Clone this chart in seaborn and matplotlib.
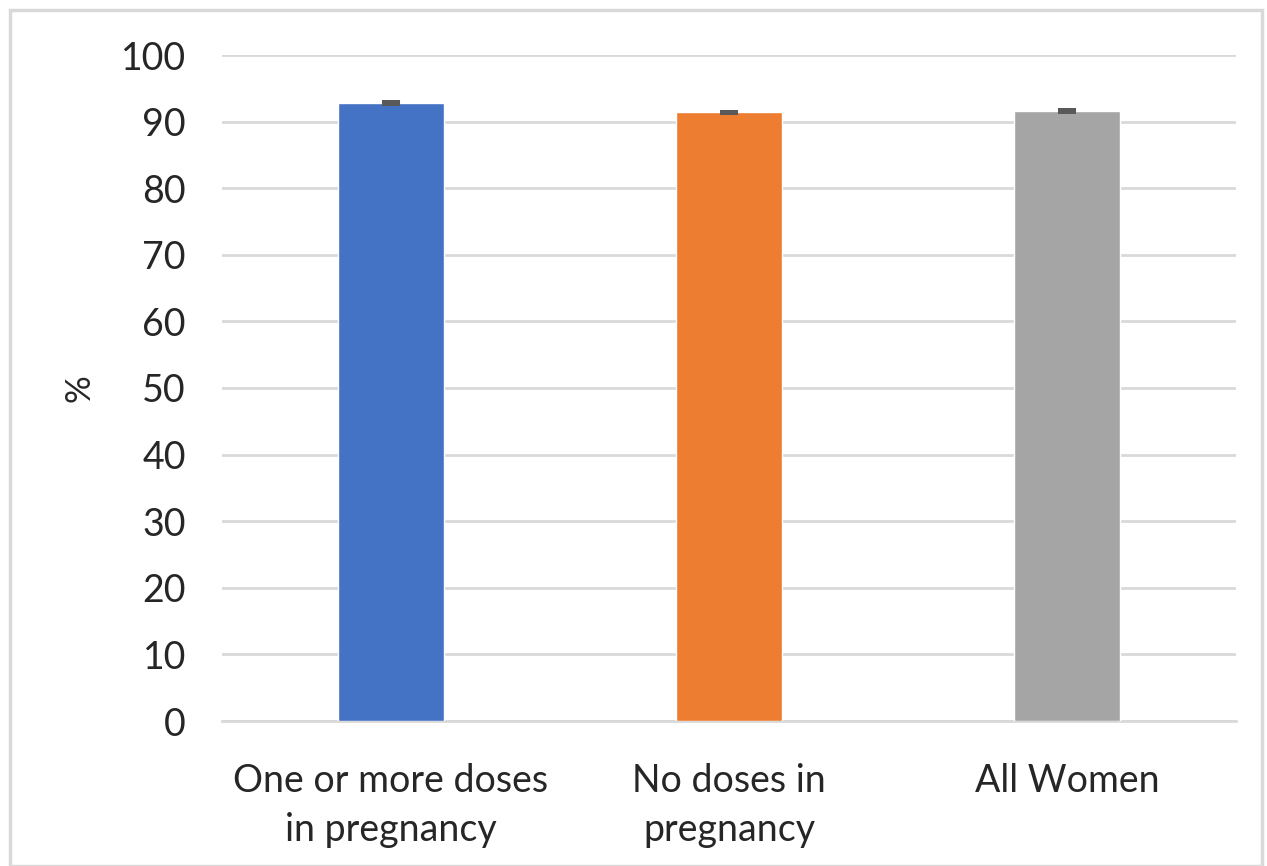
import matplotlib
matplotlib.use("Agg")
import matplotlib.pyplot as plt
import seaborn as sns
import pandas as pd
from matplotlib.patches import Rectangle

categories = ["One or more doses\nin pregnancy", "No doses in\npregnancy", "All Women"]
values = [92.8, 91.4, 91.6]
errors = [0.5, 0.4, 0.4]
colors = ["#4472C4", "#ED7D31", "#A5A5A5"]
yticks = [0, 10, 20, 30, 40, 50, 60, 70, 80, 90, 100]

sns.set_theme(style="white")
plt.rcParams["font.family"] = ["Lato", "DejaVu Sans"]

W, H, DPI = 1267, 866, 100
fig = plt.figure(figsize=(W / DPI, H / DPI), dpi=DPI)
ax = fig.add_axes([222 / W, 1 - 721 / H, (1236 - 222) / W, (721 - 55) / H])

df = pd.DataFrame({"cat": categories, "val": values})
sns.barplot(data=df, x="cat", y="val", hue="cat", palette=colors, width=0.315,
            legend=False, ax=ax, zorder=3, saturation=1)
ax.errorbar(range(len(values)), values, yerr=errors, fmt="none", ecolor="#595959",
            elinewidth=13, capsize=0, zorder=4)

ax.set_ylim(0, 100)
ax.set_xlim(-0.5, 2.5)
ax.set_yticks(yticks)
ax.set_yticklabels([str(t) for t in yticks], fontsize=27, color="#262626")
ax.tick_params(axis="x", labelsize=27, colors="#262626", length=0, pad=30)
ax.tick_params(axis="y", length=0, pad=26)
for lbl in ax.get_xticklabels():
    lbl.set_verticalalignment("top")
    lbl.set_linespacing(1.45)
ax.yaxis.grid(True, color="#D9D9D9", linewidth=2, zorder=0)
ax.set_axisbelow(True)
for s in ["top", "right", "left"]:
    ax.spines[s].set_visible(False)
ax.spines["bottom"].set_color("#D9D9D9")
ax.spines["bottom"].set_linewidth(2)
ax.set_xlabel("")
ax.set_ylabel("%", fontsize=25, color="#262626", labelpad=18)

fig.patches.append(Rectangle((10 / W, 0), (1262 - 10) / W, 1 - 10 / H,
                             transform=fig.transFigure, fill=False,
                             edgecolor="#D9D9D9", linewidth=2.5))
fig.savefig("out.png", dpi=DPI)
